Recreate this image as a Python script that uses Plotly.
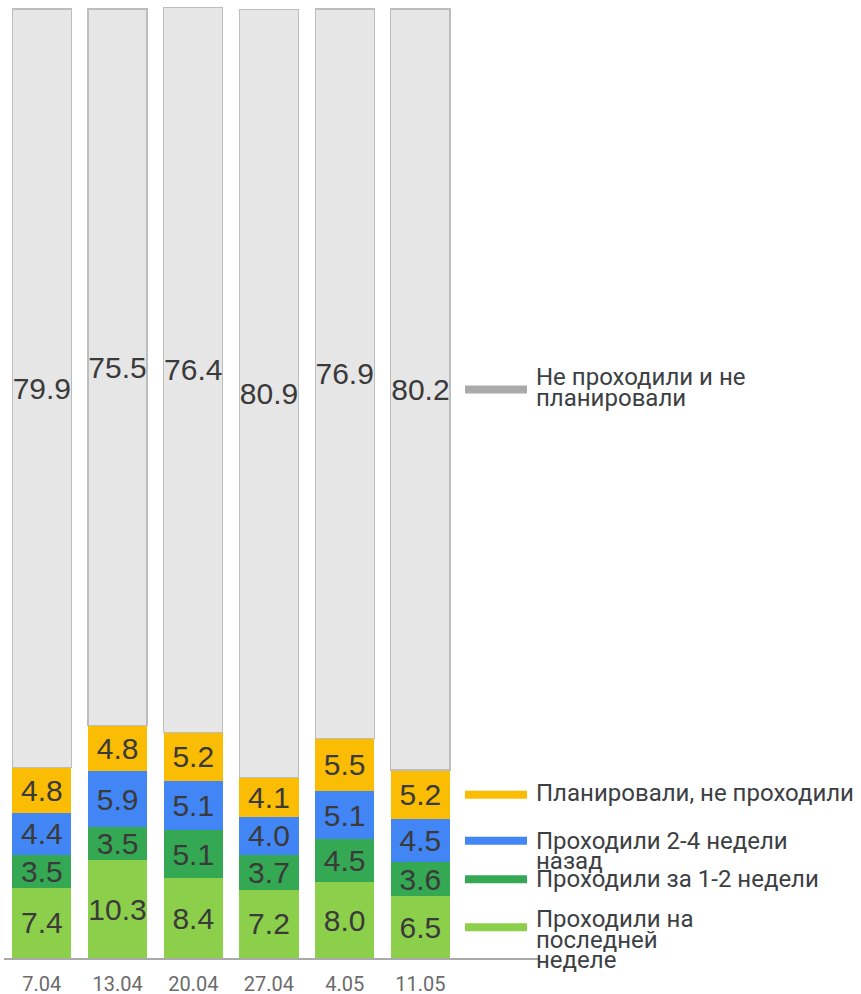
import plotly.graph_objects as go

categories = ["7.04", "13.04", "20.04", "27.04", "4.05", "11.05"]

series_names = [
    "Проходили на последней неделе",
    "Проходили за 1-2 недели",
    "Проходили 2-4 недели назад",
    "Планировали, не проходили",
    "Не проходили и не планировали",
]
last_week = [7.4, 10.3, 8.4, 7.2, 8.0, 6.5]
one_two_weeks = [3.5, 3.5, 5.1, 3.7, 4.5, 3.6]
two_four_weeks = [4.4, 5.9, 5.1, 4.0, 5.1, 4.5]
planned = [4.8, 4.8, 5.2, 4.1, 5.5, 5.2]
never = [79.9, 75.5, 76.4, 80.9, 76.9, 80.2]

series_values = [last_week, one_two_weeks, two_four_weeks, planned, never]
colors = ["#8ccf4a", "#34a853", "#4285f4", "#fbbc04", "#e6e6e6"]
legend_colors = ["#8ccf4a", "#34a853", "#4285f4", "#fbbc04", "#aaaaaa"]

# legend text lines and their pixel offsets from marker
legend_lines = [
    (["Проходили на", "последней", "неделе"], [-8, 13, 33]),
    (["Проходили за 1-2 недели"], [0]),
    (["Проходили 2-4 недели", "назад"], [0, 20]),
    (["Планировали, не проходили"], [-2]),
    (["Не проходили и не", "планировали"], [-12, 9]),
]

W, H = 861, 994
L, R, T, B = 4, 321, 7, 36
plot_w = W - L - R

fig = go.Figure()
for name, vals, col in zip(series_names, series_values, colors):
    is_grey = col == "#e6e6e6"
    fig.add_trace(go.Bar(
        x=categories, y=vals, name=name,
        marker=dict(color=col,
                    line=dict(color="#bdbdbd" if is_grey else col, width=1.2 if is_grey else 0)),
        text=[f"{v:.1f}" for v in vals],
        textposition="inside", insidetextanchor="middle", textangle=0,
        textfont=dict(family="Liberation Sans, Arial, sans-serif", size=30, color="#3a3a3a"),
        cliponaxis=False,
    ))

# labeled legend aligned to last bar segments
last_idx = len(categories) - 1
cum = 0.0
for vals, lcol, (lines, offs) in zip(series_values, legend_colors, legend_lines):
    center = cum + vals[last_idx] / 2
    cum += vals[last_idx]
    fig.add_shape(type="line", xref="paper", yref="y",
                  x0=(465 - L) / plot_w, x1=(527 - L) / plot_w, y0=center, y1=center,
                  line=dict(color=lcol, width=8))
    for txt, off in zip(lines, offs):
        fig.add_annotation(xref="paper", yref="y", x=(534 - L) / plot_w, y=center,
                           yshift=-off, text=txt, showarrow=False,
                           xanchor="left", yanchor="middle",
                           font=dict(family="Roboto, sans-serif", size=24, color="#3c4043"))

fig.update_layout(
    barmode="stack", bargap=0.22,
    width=W, height=H,
    margin=dict(l=L, r=R, t=T, b=B),
    plot_bgcolor="white", paper_bgcolor="white",
    showlegend=False,
    uniformtext=dict(minsize=30, mode="show"),
)
fig.update_xaxes(range=[-0.5, 6.58], showgrid=False, zeroline=False,
                 showline=True, linecolor="#aaaaaa", linewidth=2,
                 tickfont=dict(family="Roboto, sans-serif", size=20, color="#6b6b6b"),
                 ticks="", ticklabelstandoff=7, automargin=False)
fig.update_yaxes(range=[0, 100.2], showgrid=False, zeroline=False,
                 showticklabels=False, showline=False, automargin=False)

fig.write_html("out.html", config={"displayModeBar": False},
               post_script="document.body.style.margin='0';")
